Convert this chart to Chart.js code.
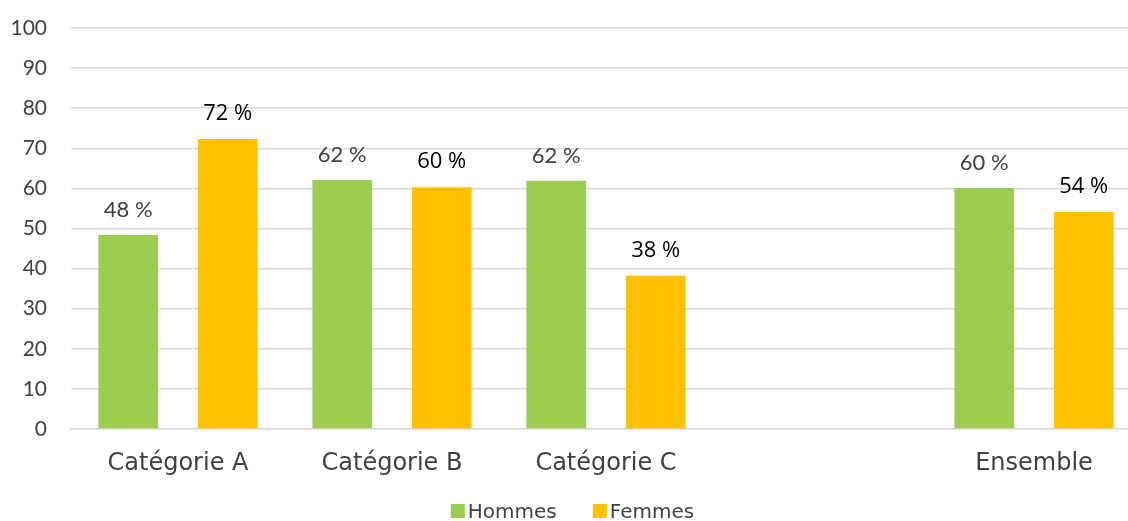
<!DOCTYPE html>
<html>
<head>
<meta charset="utf-8">
<script src="https://cdn.jsdelivr.net/npm/chart.js@4/dist/chart.umd.min.js"></script>
<style>
html,body{margin:0;padding:0;background:#fff;overflow:hidden;width:1128px;height:521px;}
#wrap{width:1145px;height:521px;}
</style>
</head>
<body>
<div id="wrap"><canvas id="c" width="1145" height="521"></canvas></div>
<script>
const categories = ["Catégorie A", "Catégorie B", "Catégorie C", "", "Ensemble"];
const hommes = [48.4, 62.1, 61.9, null, 60.1];
const femmes = [72.3, 60.3, 38.2, null, 54.1];
const hommesLabels = ["48 %", "62 %", "62 %", "", "60 %"];
const femmesLabels = ["72 %", "60 %", "38 %", "", "54 %"];
const yTicks = [0, 10, 20, 30, 40, 50, 60, 70, 80, 90, 100];

const textColor = '#404040';

const valueLabels = {
  id: 'valueLabels',
  afterDatasetsDraw(chart) {
    const ctx = chart.ctx;
    chart.data.datasets.forEach((ds, di) => {
      const meta = chart.getDatasetMeta(di);
      meta.data.forEach((bar, i) => {
        const txt = ds.valueLabels[i];
        if (!txt || ds.data[i] == null) return;
        ctx.save();
        ctx.textAlign = 'center';
        ctx.textBaseline = 'alphabetic';
        ctx.font = ds.labelFont;
        ctx.fillStyle = ds.labelColor;
        ctx.fillText(txt, bar.x, bar.y - ds.labelGap);
        ctx.restore();
      });
    });
  }
};

const customLegend = {
  id: 'customLegend',
  afterDraw(chart) {
    const ctx = chart.ctx;
    const box = 14, gapText = 3, gapItem = 36;
    ctx.save();
    ctx.font = '20px "DejaVu Sans", sans-serif';
    const items = chart.data.datasets.map(ds => ({ text: ds.label, color: ds.backgroundColor, w: ctx.measureText(ds.label).width }));
    const total = items.reduce((s, it) => s + box + gapText + it.w, 0) + gapItem * (items.length - 1);
    let x = chart.width / 2 - total / 2;
    const baseline = 518;
    items.forEach(it => {
      ctx.fillStyle = it.color;
      ctx.fillRect(x, 504, box, box);
      x += box + gapText;
      ctx.fillStyle = textColor;
      ctx.textBaseline = 'alphabetic';
      ctx.textAlign = 'left';
      ctx.fillText(it.text, x, baseline);
      x += it.w + gapItem;
    });
    ctx.restore();
  }
};

new Chart(document.getElementById('c'), {
  type: 'bar',
  data: {
    labels: categories,
    datasets: [
      {
        label: 'Hommes',
        data: hommes,
        backgroundColor: '#9CCC50',
        valueLabels: hommesLabels,
        labelFont: '22px Lato, sans-serif',
        labelColor: textColor,
        labelGap: 18,
        categoryPercentage: 0.93,
        barPercentage: 0.6
      },
      {
        label: 'Femmes',
        data: femmes,
        backgroundColor: '#FFC000',
        valueLabels: femmesLabels,
        labelFont: '22px "Open Sans", sans-serif',
        labelColor: '#000000',
        labelGap: 19,
        categoryPercentage: 0.93,
        barPercentage: 0.6
      }
    ]
  },
  options: {
    responsive: false,
    animation: false,
    layout: { padding: { top: 28, right: 4, left: 0, bottom: 0 } },
    plugins: {
      legend: { display: false },
      tooltip: { enabled: false }
    },
    scales: {
      x: {
        grid: { display: false, drawTicks: false },
        border: { display: true, color: '#d9d9d9', width: 1.5 },
        ticks: { color: textColor, font: { family: '"DejaVu Sans", sans-serif', size: 24 }, padding: 20, maxRotation: 0, autoSkip: false },
        afterFit(scale) { scale.height = 92; }
      },
      y: {
        min: 0, max: 100,
        afterBuildTicks(scale) { scale.ticks = yTicks.map(v => ({ value: v })); },
        grid: { color: '#d9d9d9', lineWidth: 1.5, drawTicks: true, tickLength: 9, tickColor: 'rgba(0,0,0,0)' },
        border: { display: false },
        ticks: { color: textColor, font: { family: 'Lato, sans-serif', size: 21 }, padding: 15 },
        afterFit(scale) { scale.width = 71; }
      }
    }
  },
  plugins: [valueLabels, customLegend]
});
</script>
</body>
</html>
